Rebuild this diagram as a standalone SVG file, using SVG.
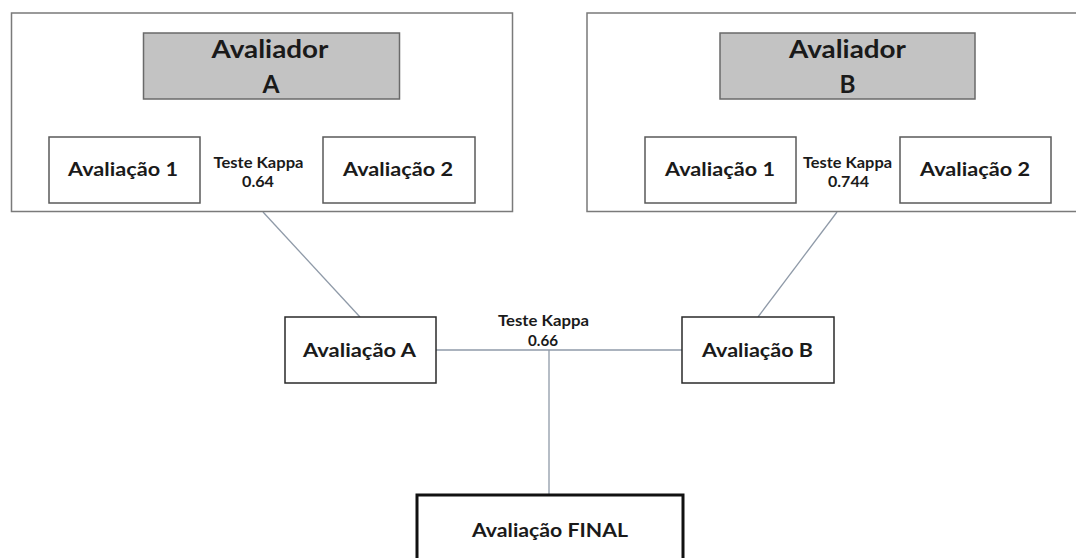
<svg xmlns="http://www.w3.org/2000/svg" width="1076" height="558" viewBox="0 0 1076 558">
<style>
.outer{fill:#fff;stroke:#7a7a7a;stroke-width:1.5}
.head{fill:#c3c3c3;stroke:#6a6a6a;stroke-width:1.5}
.box{fill:#fff;stroke:#5a5a5a;stroke-width:1.5}
.node{fill:#fff;stroke:#2a2a2a;stroke-width:1.5}
.final{fill:#fff;stroke:#111;stroke-width:3}
text{font-family:Lato,"Open Sans",sans-serif;font-weight:bold;fill:#1a1a1a;text-anchor:middle}
.big{font-size:24px}
.mid{font-size:19px}
.small{font-size:15px}
.conn{stroke:#8f9aa8;stroke-width:1.3;fill:none}
</style>
<rect width="1076" height="558" fill="#fff"/>
<g id="connectors">
<line class="conn" x1="263" y1="212" x2="360" y2="317"/>
<line class="conn" x1="837" y1="212" x2="758" y2="317"/>
<line class="conn" x1="436" y1="350" x2="682" y2="350"/>
<line class="conn" x1="549" y1="350" x2="549" y2="495"/>
</g>
<g id="avaliadorA">
<rect class="outer" x="11.5" y="13" width="501" height="198.5"/>
<rect class="head" x="143.5" y="33" width="256" height="66"/>
<text class="big" x="270" y="58" textLength="117" lengthAdjust="spacingAndGlyphs">Avaliador</text>
<text class="big" x="271" y="93" textLength="17" lengthAdjust="spacingAndGlyphs">A</text>
<g id="a1"><rect class="box" x="49" y="137" width="151" height="66"/><text class="mid" x="123" y="176" textLength="110" lengthAdjust="spacingAndGlyphs">Avaliação 1</text></g>
<g id="a2"><rect class="box" x="323" y="137" width="152" height="66"/><text class="mid" x="398" y="176" textLength="110" lengthAdjust="spacingAndGlyphs">Avaliação 2</text></g>
<text class="small" x="258.5" y="168" textLength="90" lengthAdjust="spacingAndGlyphs">Teste Kappa</text>
<text class="small" x="258" y="187" textLength="32" lengthAdjust="spacingAndGlyphs">0.64</text>
</g>
<g id="avaliadorB">
<rect class="outer" x="587" y="13" width="495" height="198.5"/>
<rect class="head" x="720" y="33" width="255" height="66"/>
<text class="big" x="847.5" y="58" textLength="117" lengthAdjust="spacingAndGlyphs">Avaliador</text>
<text class="big" x="847.5" y="93" textLength="16" lengthAdjust="spacingAndGlyphs">B</text>
<g id="b1"><rect class="box" x="645" y="137" width="151" height="66"/><text class="mid" x="720" y="176" textLength="110" lengthAdjust="spacingAndGlyphs">Avaliação 1</text></g>
<g id="b2"><rect class="box" x="900" y="137" width="151" height="66"/><text class="mid" x="975" y="176" textLength="110" lengthAdjust="spacingAndGlyphs">Avaliação 2</text></g>
<text class="small" x="847.5" y="168" textLength="89" lengthAdjust="spacingAndGlyphs">Teste Kappa</text>
<text class="small" x="848.5" y="187" textLength="41" lengthAdjust="spacingAndGlyphs">0.744</text>
</g>
<g id="avaliacaoA">
<rect class="node" x="285" y="317" width="151" height="66"/>
<text class="mid" x="359.5" y="357" textLength="113" lengthAdjust="spacingAndGlyphs">Avaliação A</text>
</g>
<g id="kappaAB">
<text class="small" x="543.5" y="326" textLength="91" lengthAdjust="spacingAndGlyphs">Teste Kappa</text>
<text class="small" x="543" y="346" textLength="30" lengthAdjust="spacingAndGlyphs">0.66</text>
</g>
<g id="avaliacaoB">
<rect class="node" x="682" y="317" width="152" height="66"/>
<text class="mid" x="757.5" y="357" textLength="111" lengthAdjust="spacingAndGlyphs">Avaliação B</text>
</g>
<g id="final">
<rect class="final" x="417" y="495" width="266" height="80"/>
<text class="mid" x="550" y="537" textLength="156" lengthAdjust="spacingAndGlyphs">Avaliação FINAL</text>
</g>
</svg>
